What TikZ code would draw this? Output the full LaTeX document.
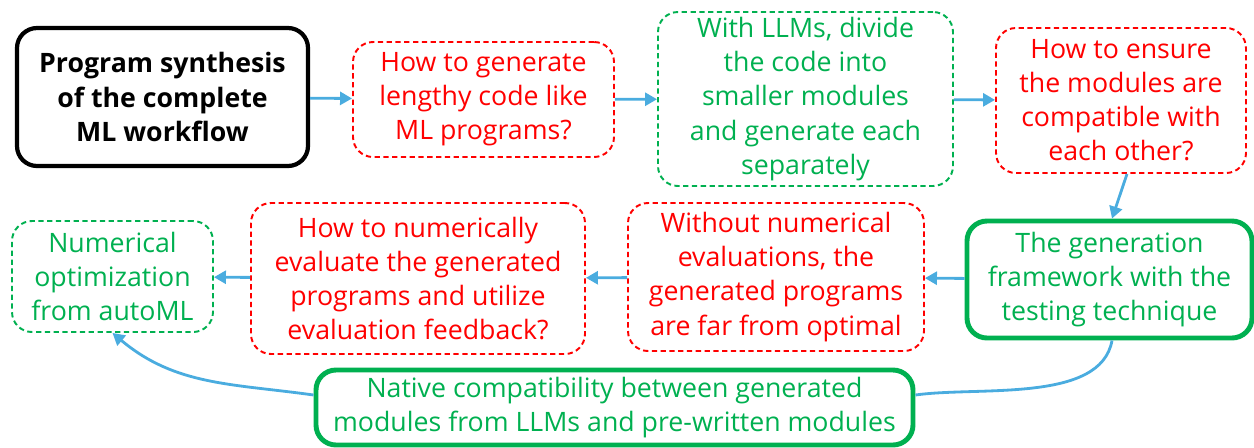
\documentclass[tikz,border=0pt]{standalone}
\usepackage{fontspec}
\setmainfont{Open Sans}
\usetikzlibrary{arrows.meta}
\definecolor{redq}{HTML}{FF0000}
\definecolor{greenq}{HTML}{00B050}
\definecolor{bluea}{HTML}{4AACDF}
\begin{document}
\begin{tikzpicture}[
        box/.style={rounded corners=0.4cm, align=center, font=\fontsize{15.2}{19.4}\selectfont, inner sep=0},
        question/.style={box, draw=redq, text=redq, dashed, dash pattern=on 3pt off 2pt, line width=1.1pt},
        answer/.style={box, draw=greenq, text=greenq, dashed, dash pattern=on 3pt off 2pt, line width=1.1pt},
        result/.style={box, draw=greenq, text=greenq, line width=2.8pt},
        flow/.style={bluea, line width=1.6pt, -{Triangle[length=0.24cm, width=0.26cm]}}
    ]
        \useasboundingbox (0, 0) rectangle (25.08, -8.94);
        \node[box, draw=black, line width=2.4pt, font=\fontsize{15.2}{19.4}\selectfont\bfseries, minimum width=5.82cm, minimum height=2.76cm] (goal) at (3.25, -1.94) {Program synthesis\\of the complete\\ML workflow};
        \node[question, minimum width=5.22cm, minimum height=2.30cm] (lengthy) at (9.67, -1.99) {How to generate\\lengthy code like\\ML programs?};
        \node[answer, minimum width=5.90cm, minimum height=3.48cm] (divide) at (16.11, -1.98) {With LLMs,  divide\\the code into\\smaller modules\\and generate each\\separately};
        \node[question, minimum width=5.00cm, minimum height=2.90cm] (compat) at (22.42, -2.01) {How to ensure\\the modules are\\compatible with\\each other?};
        \node[result, minimum width=5.70cm, minimum height=2.34cm] (testing) at (22.19, -5.59) {The generation\\framework with the\\testing technique};
        \node[question, minimum width=5.92cm, minimum height=2.96cm] (noeval) at (15.52, -5.54) {Without numerical\\evaluations, the\\generated programs\\are far from optimal};
        \node[question, minimum width=6.68cm, minimum height=3.02cm] (numeval) at (8.36, -5.57) {How to numerically\\evaluate the generated\\programs and utilize\\evaluation feedback?};
        \node[answer, minimum width=4.02cm, minimum height=2.22cm] (automl) at (2.25, -5.53) {Numerical\\optimization\\from autoML};
        \node[result, minimum width=11.94cm, minimum height=1.50cm] (native) at (12.29, -8.15) {Native compatibility between generated\\modules from LLMs and pre-written modules};

        \draw[flow] (goal) -- (lengthy);
        \draw[flow] (lengthy) -- (divide);
        \draw[flow] (divide) -- (compat);
        \draw[flow] ([xshift=0.12cm]compat.south) -- ([xshift=0.05cm]testing.north);
        \draw[flow] (testing) -- (noeval);
        \draw[flow] (noeval) -- (numeval);
        \draw[flow] (numeval) -- (automl);
        % testing -> native -> automl
        \draw[bluea, line width=1.6pt] ([xshift=0.05cm]testing.south) to[out=-100, in=8, looseness=0.8] ([yshift=0.25cm]native.east);
        \draw[flow] ([yshift=0.25cm]native.west) to[out=172, in=-40] (automl.south);
    \end{tikzpicture}
\end{document}
